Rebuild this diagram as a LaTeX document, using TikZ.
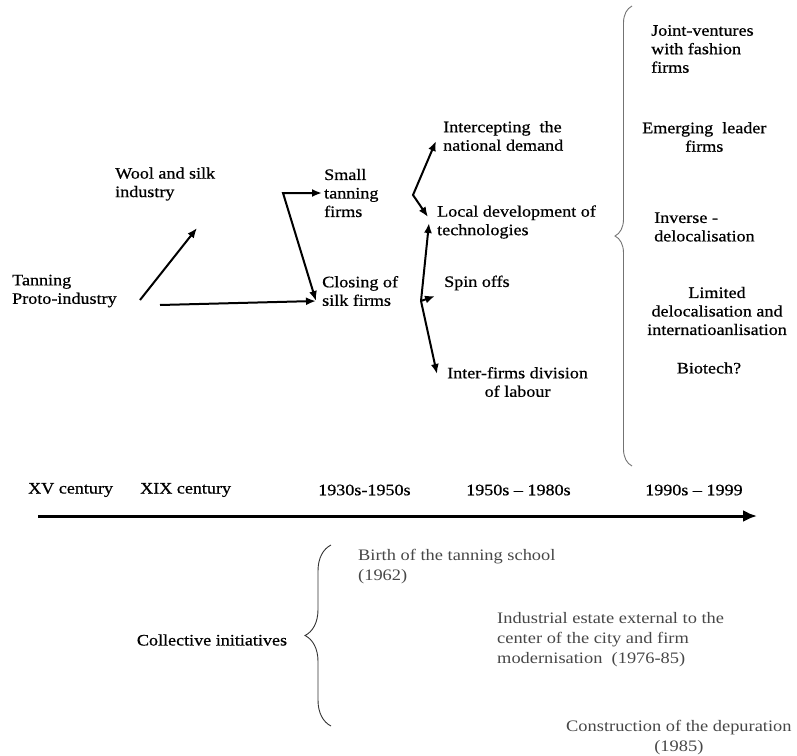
\documentclass[tikz,border=0pt]{standalone}
\usepackage{fontspec}
\setmainfont{Liberation Serif}[FakeStretch=1.15]
\newfontfamily\darkserif{Liberation Serif}[Ligatures=TeX, FakeStretch=1.13, FakeBold=0.6]
\usetikzlibrary{arrows.meta,decorations.pathreplacing}

\begin{document}
\begin{tikzpicture}[x=1pt, y=-1pt,
    lbl/.style={anchor=west, inner sep=2pt, align=left,
                font=\darkserif\fontsize{16}{18.5}\selectfont},
    low/.style={anchor=west, inner sep=2pt, align=left, text=black!72,
                font=\fontsize{16}{20}\selectfont},
    flow/.style={line width=2pt, -{Latex[length=10pt,width=8pt]}},
    twoway/.style={line width=2pt, {Latex[length=10pt,width=8pt]}-{Latex[length=10pt,width=8pt]}},
    curly/.style={decorate, decoration={brace, amplitude=#1}, line width=0.9pt}]
         \useasboundingbox (0,0) rectangle (797,755);
         % Phases
         \node (tanning)   [lbl] at (10, 291)  {Tanning\\Proto-industry};
         \node (wool)      [lbl] at (113, 184) {Wool and silk\\industry};
         \node (small)     [lbl] at (322, 193) {Small\\tanning\\firms};
         \node (closing)   [lbl] at (320, 291) {Closing of\\silk firms};
         \node (intercept) [lbl] at (441, 136) {Intercepting\ \ the\\national demand};
         \node (localdev)  [lbl] at (435, 222) {Local development of\\technologies};
         \node (spin)      [lbl] at (442, 283) {Spin offs};
         \node (division)  [lbl, align=center] at (445, 382) {Inter-firms division\\of labour};
         \node (joint)     [lbl] at (649, 49)  {Joint-ventures\\with fashion\\firms};
         \node (emerging)  [lbl, align=center] at (640, 137) {Emerging\ \ leader\\firms};
         \node (inverse)   [lbl] at (652, 227) {Inverse -\\delocalisation};
         \node (limited)   [lbl, align=center, anchor=center] at (717, 311)
                           {Limited\\delocalisation and\\internatioanlisation};
         \node (biotech)   [lbl, anchor=center] at (709, 368) {Biotech?};
         % Arrows
         \coordinate (t1)  at (140, 300);
         \coordinate (t2)  at (160, 305);
         \coordinate (w1)  at (197, 228);
         \coordinate (cin) at (316, 301);
         \coordinate (k1)  at (283, 193);
         \coordinate (m1)  at (413, 195);
         \coordinate (mi)  at (436, 141);
         \coordinate (ml)  at (428, 217);
         \coordinate (mt)  at (429, 223);
         \coordinate (m2)  at (421, 301);
         \coordinate (ms)  at (435, 296);
         \coordinate (md)  at (437, 374);
         \draw [flow] (t1) -- (w1);
         \draw [flow] (t2) -- (cin);
         \draw [twoway] (cin) -- (k1) -- (small.west);
         \draw [twoway] (mi) -- (m1) -- (ml);
         \draw [twoway] (mt) -- (m2) -- (md);
         \draw [flow] (m2) -- (ms);
         \draw [curly=17, black!55] (632, 466) -- (632, 6);
         % Time axis
         \node (xv)   [lbl] at (26, 490)  {XV century};
         \node (xix)  [lbl] at (138, 490) {XIX century};
         \node (p30)  [lbl] at (316, 490) {1930s-1950s};
         \node (p50)  [lbl] at (464, 490) {1950s -- 1980s};
         \node (p90)  [lbl] at (643, 490) {1990s -- 1999};
         \coordinate (ax0) at (38, 516);
         \coordinate (ax1) at (757, 516);
         \draw [line width=3pt, -{Latex[length=14pt,width=12pt]}] (ax0) -- (ax1);
         % Collective initiatives
         \node (collective) [lbl, anchor=center] at (212, 640) {Collective initiatives};
         \draw [curly=26, black!80] (331, 726) -- (331, 545);
         \node (birth)  [low] at (356, 567) {Birth of the tanning school\\(1962)};
         \node (estate) [low] at (495, 640)
                        {Industrial estate external to the\\center of the city and firm\\modernisation\ \ (1976-85)};
         \node (depur)  [low, align=center] at (564, 738) {Construction of the depuration\\(1985)};
     \end{tikzpicture}
\end{document}
